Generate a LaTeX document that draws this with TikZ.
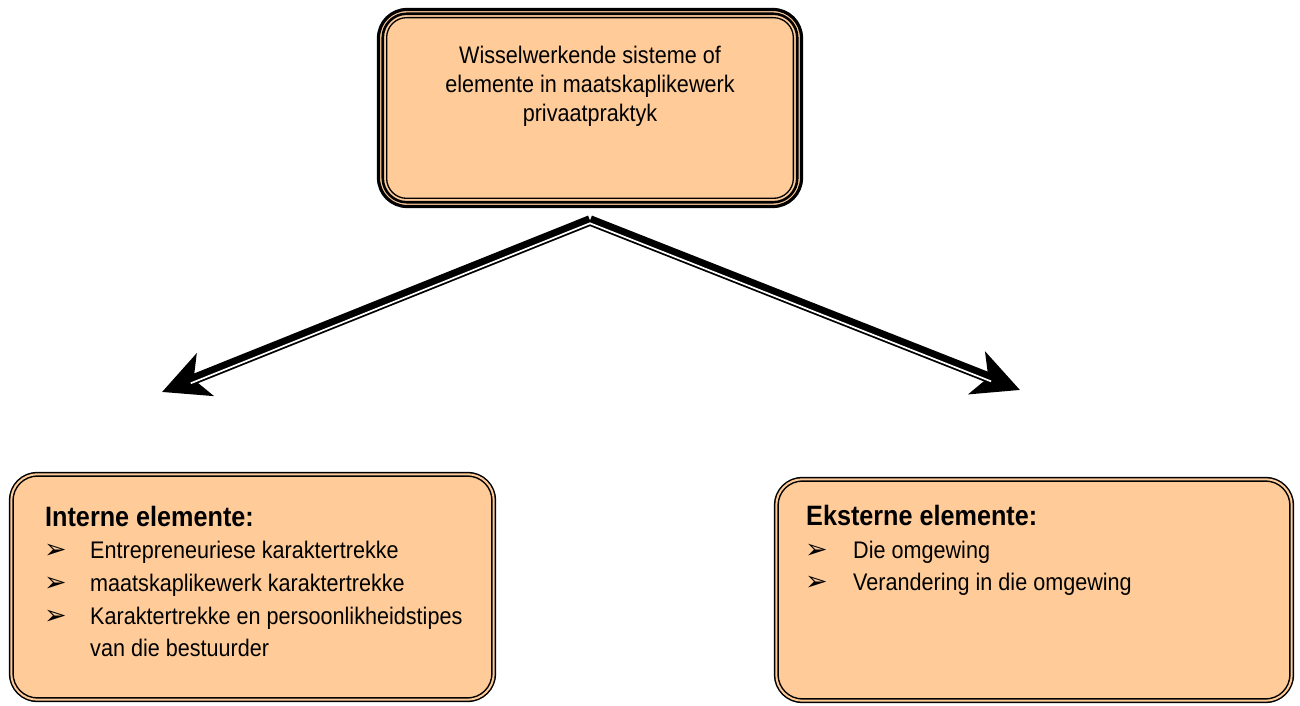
\documentclass[tikz,border=0pt]{standalone}
\usepackage{fontspec}
\setmainfont{Liberation Sans}[FakeStretch=0.9]
\newfontfamily\dingfont{DejaVu Sans}
\usetikzlibrary{arrows.meta,calc}
\definecolor{peach}{RGB}{255,204,153}
\begin{document}
\begin{tikzpicture}[x=1pt,y=1pt,
  panel/.style={draw=black, fill=peach, line width=1.5pt, double=peach,
    double distance=2pt, rounded corners=26pt, inner sep=0pt, outer sep=0pt},
  bigarrow/.style={line width=10.5pt, -{Stealth[length=46pt,width=45pt,inset=12pt]}},
  gapline/.style={white, line width=1.7pt},
  body/.style={font=\fontsize{24}{29}\selectfont, inner sep=0pt},
  head/.style={font=\fontsize{28}{32}\selectfont\bfseries, inner sep=0pt},
  bul/.style={font=\dingfont\fontsize{27}{27}\selectfont, inner sep=0pt}]
\useasboundingbox (0,0) rectangle (1300,706);

% top box with a triple border
\node[draw, line width=3.2pt, fill=peach, rounded corners=28.5pt,
  minimum width=423pt, minimum height=197pt, inner sep=0pt, outer sep=0pt]
  (top) at (590,598) {};
\draw[line width=2.6pt, rounded corners=24pt]
  ([shift={(4.25pt,4.25pt)}]top.south west) rectangle ([shift={(-4.25pt,-4.25pt)}]top.north east);
\draw[line width=1.3pt, rounded corners=20pt]
  ([shift={(8.15pt,8.15pt)}]top.south west) rectangle ([shift={(-8.15pt,-8.15pt)}]top.north east);
\node[body, anchor=base, align=center] (toptext) at (590,584)
  {Wisselwerkende sisteme of\\elemente in maatskaplikewerk\\privaatpraktyk};

% lower boxes
\node[panel, minimum width=482.4pt, minimum height=225.4pt] (intern) at (252.5,119) {};
\node[panel, minimum width=515.4pt, minimum height=221.4pt] (extern) at (1034,116) {};

% branching arrows
\coordinate (apex) at ([yshift=-14pt]top.south);
\coordinate (ltip) at (162,314);
\coordinate (rtip) at (1020,316);
\draw[bigarrow] (apex) -- (ltip);
\draw[bigarrow] (apex) -- (rtip);
\coordinate (lg) at ($(apex)!0.935!(ltip)$);
\coordinate (rg) at ($(apex)!0.935!(rtip)$);
\draw[gapline] ($(lg)!2.6pt!90:(ltip)$) -- ($(apex)+(0,-2.8)$) -- ($(rg)!2.6pt!-90:(rtip)$);

% internal elements
\node[head, anchor=base west] (inhead) at (45,179) {Interne elemente:};
\node[bul, anchor=base west] (ib1) at (44,147) {➢};
\node[body, anchor=base west] (it1) at (90,147) {Entrepreneuriese karaktertrekke};
\node[bul, anchor=base west] (ib2) at (44,114) {➢};
\node[body, anchor=base west] (it2) at (90,114) {maatskaplikewerk karaktertrekke};
\node[bul, anchor=base west] (ib3) at (44,81) {➢};
\node[body, anchor=base west] (it3) at (90,81) {Karaktertrekke en persoonlikheidstipes};
\node[body, anchor=base west] (it4) at (90,49) {van die bestuurder};

% external elements
\node[head, anchor=base west] (exhead) at (806,180) {Eksterne elemente:};
\node[bul, anchor=base west] (eb1) at (805,147) {➢};
\node[body, anchor=base west] (et1) at (853,147) {Die omgewing};
\node[bul, anchor=base west] (eb2) at (805,115) {➢};
\node[body, anchor=base west] (et2) at (853,115) {Verandering in die omgewing};
\end{tikzpicture}
\end{document}
